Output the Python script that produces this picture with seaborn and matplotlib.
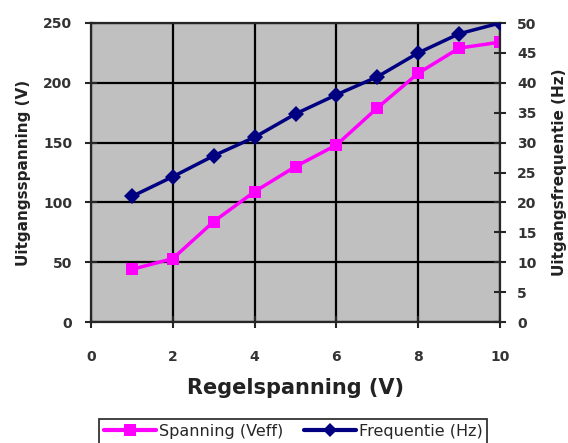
import matplotlib
matplotlib.use("Agg")
import matplotlib.pyplot as plt
import seaborn as sns
import pandas as pd
from matplotlib.lines import Line2D

# ── Data ─────────────────────────────────────────────────────────────────────
regelspanning = [1, 2, 3, 4, 5, 6, 7, 8, 9, 10]
spanning      = [44, 53, 84, 109, 130, 148, 179, 208, 229, 234]
frequentie    = [21, 24.3, 27.8, 30.9, 34.8, 38, 41, 45, 48.2, 50]

df = pd.DataFrame({"x": regelspanning, "V": spanning, "Hz": frequentie})

PINK = "#FF00FF"
NAVY = "#000080"
TICK_COL = "#333333"

# ── Plot ─────────────────────────────────────────────────────────────────────
sns.set_style("ticks")
plt.rcParams['font.family'] = ['DejaVu Sans']

fig = plt.figure(figsize=(5.68, 4.43), dpi=100)
ax = fig.add_axes([91/568, 1 - 322/443, 409/568, 299/443])
ax.set_facecolor("#C0C0C0")

sns.lineplot(data=df, x="x", y="V", ax=ax, color=PINK, lw=2.5,
             marker="s", markersize=8.5, markeredgewidth=0, zorder=3)
ax.set_xlim(0, 10)
ax.set_ylim(0, 250)
ax.set_xticks(range(0, 11, 2))
ax.set_yticks(range(0, 251, 50))
ax.grid(True, color="black", lw=1.6)
ax.set_axisbelow(True)
ax.tick_params(axis="y", direction="inout", length=9, width=1.5, labelsize=10, pad=9)
ax.tick_params(axis="x", direction="inout", length=9, width=1.5, labelsize=10, pad=16)
for lbl in ax.get_xticklabels() + ax.get_yticklabels():
    lbl.set_fontweight("bold")
    lbl.set_color(TICK_COL)
ax.spines["right"].set_visible(False)
for s in ["left", "bottom", "top"]:
    ax.spines[s].set_linewidth(1.6)
ax.set_xlabel("Regelspanning (V)", fontsize=15, fontweight="bold", labelpad=10,
              color="#222222")
ax.set_ylabel("Uitgangsspanning (V)", fontsize=11, fontweight="bold", labelpad=9,
              color="#222222")

ax2 = ax.twinx()
sns.lineplot(data=df, x="x", y="Hz", ax=ax2, color=NAVY, lw=2.5,
             marker="D", markersize=8, markeredgewidth=0, zorder=3)
ax2.set_ylim(0, 50)
ax2.set_yticks(range(0, 51, 5))
ax2.tick_params(direction="inout", length=9, width=1.5, labelsize=10, pad=8)
for lbl in ax2.get_yticklabels():
    lbl.set_fontweight("bold")
    lbl.set_color(TICK_COL)
for s in ["top", "left", "bottom"]:
    ax2.spines[s].set_visible(False)
ax2.spines["right"].set_linewidth(1.6)
ax2.set_ylabel("Uitgangsfrequentie (Hz)", fontsize=11, fontweight="bold", labelpad=11,
               color="#222222")

handles = [
    Line2D([], [], color=PINK, lw=3, marker="s", markersize=8, markeredgewidth=0),
    Line2D([], [], color=NAVY, lw=3, marker="D", markersize=7, markeredgewidth=0),
]
leg = fig.legend(handles, ["Spanning (Veff)", "Frequentie (Hz)"], loc="upper center",
                 bbox_to_anchor=(293/568, 1 - 419/443), ncol=2, frameon=True,
                 fancybox=False, edgecolor="black", fontsize=11.5, handlelength=3.3,
                 columnspacing=1.3, handletextpad=0.15, borderpad=0.3,
                 borderaxespad=0)
leg.get_frame().set_linewidth(1.3)

fig.savefig("out.png", dpi=100)
